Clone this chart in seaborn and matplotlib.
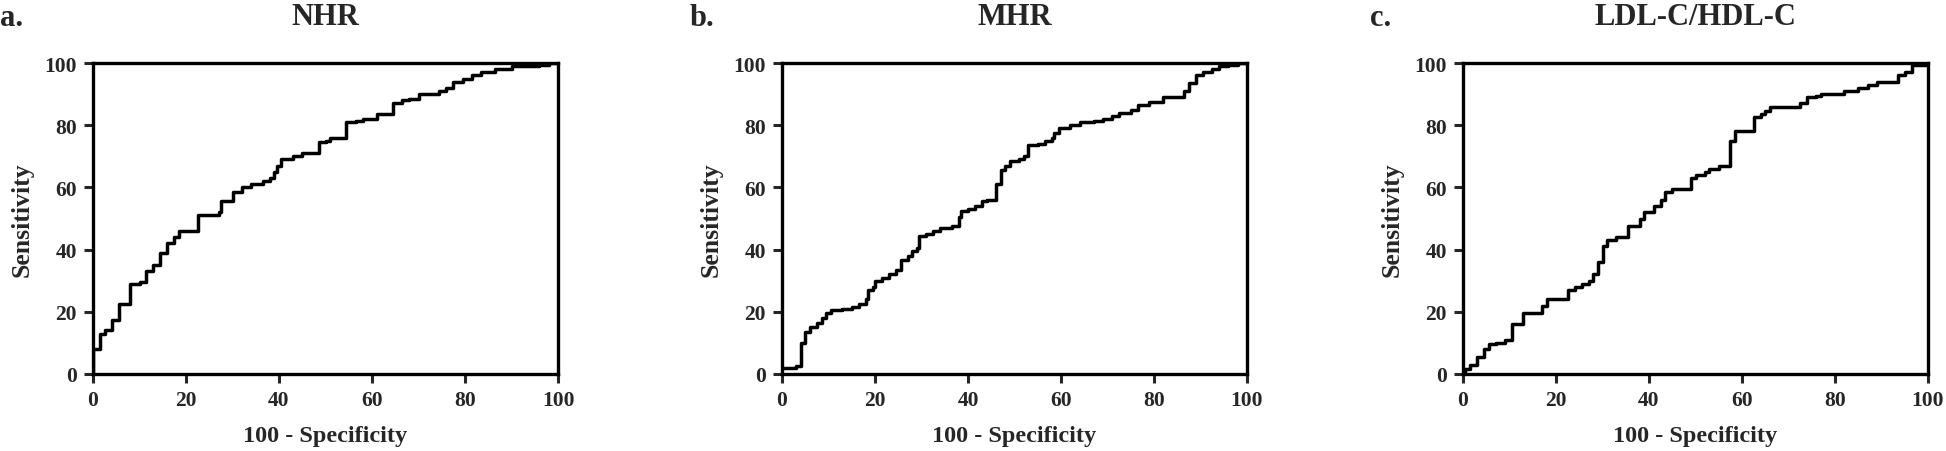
import numpy as np
import pandas as pd
import matplotlib.pyplot as plt
import seaborn as sns

# ROC 곡선 좌표 (100 - Specificity, Sensitivity), 계단형
nhr_fpr = [0, 0, 1.5, 2.5, 4, 5.5, 8, 10, 11.5, 13, 14.5, 16, 17.5, 18.5, 22.5, 27, 27.5, 30, 32, 34,
           36.5, 38, 39, 39.5, 40.5, 43, 45, 48.5, 50, 51, 54.5, 56.5, 58, 61, 64.5, 66.5, 68, 70,
           74.5, 76, 77.5, 79.5, 81.5, 83.5, 86.5, 90, 96, 98, 100]
nhr_tpr = [0, 8, 13, 14, 17.5, 22.5, 29, 29.5, 33, 35, 39, 42, 44, 46, 51, 52, 55.5, 58.5, 60, 61,
           62, 63, 65, 67, 69, 70, 71, 74.5, 75, 76, 81, 81.5, 82, 83.5, 87, 88, 88.5, 90,
           91, 92, 94, 95, 96, 97, 98, 99, 99.5, 100, 100]

mhr_fpr = [0, 3, 4, 5, 6, 7.5, 8.5, 9.5, 10.5, 13, 15, 16.5, 18, 18.5, 19.5, 20, 21.5, 23, 24.5,
           25.5, 27, 28, 29, 29.5, 31, 32.5, 34, 36.5, 38, 38.5, 40, 41.5, 43, 44, 46, 47, 48, 49,
           51, 52, 53, 55, 56.5, 58, 58.5, 59.5, 62, 64, 67, 69, 71, 72.5, 75, 76.5, 79, 82,
           86.5, 87.5, 89, 90.5, 92.5, 94, 96, 98, 100]
mhr_tpr = [2, 2.5, 10, 13.5, 15, 16.5, 18, 19.5, 20.5, 21, 21.5, 22.5, 24, 27, 28, 30, 31, 32, 33.5,
           36.5, 38, 39.5, 40.5, 44.5, 45, 46, 47, 47.5, 50.5, 52.5, 53, 54, 55.5, 56, 61, 65.5, 67, 68.5,
           69, 70, 73.5, 74, 75, 76, 77.5, 79, 80, 81, 81.5, 82, 83, 84, 85, 86.5, 87.5, 89,
           91, 93.5, 96, 97, 98, 99, 99.5, 100, 100]

ldl_fpr = [0, 0.5, 1.5, 3, 4.5, 5.5, 7, 9, 10.5, 13, 17, 18, 22.5, 24, 25.5, 27, 28, 29, 30, 31,
           33, 35.5, 38, 39, 41, 42.5, 43.5, 45, 49, 50, 52, 53, 55, 57.5, 58.5, 62.5, 64, 65, 66,
           72.5, 74, 76, 77, 82, 85, 87, 89, 93.5, 95, 96.5, 100]
ldl_tpr = [0, 1.5, 3, 5.5, 8, 9.5, 10, 11, 16, 19.5, 22, 24, 27, 28, 29, 30, 32, 36, 41, 43,
           44, 47.5, 50, 52, 54, 56, 58.5, 59.5, 63, 64, 65, 66, 67, 75, 78, 82.5, 83.5, 84.5, 86,
           87, 89, 89.5, 90, 91, 92, 93, 94, 96, 97, 99.5, 100]

titles = ["NHR", "MHR", "LDL-C/HDL-C"]
panel_tags = ["a.", "b.", "c."]
ticks = [0, 20, 40, 60, 80, 100]

sns.set_style('white')
plt.rcParams['font.family'] = ['Liberation Serif', 'DejaVu Serif']
plt.rcParams['font.weight'] = 'bold'
plt.rcParams['axes.labelweight'] = 'bold'

fig = plt.figure(figsize=(19.46, 4.52), dpi=100)
lefts = [93 / 1946, 782 / 1946, 1463 / 1946]
curves = [(nhr_fpr, nhr_tpr), (mhr_fpr, mhr_tpr), (ldl_fpr, ldl_tpr)]
tag_x = [0.0, 690 / 1946, 1370 / 1946]

for i, (fpr, tpr) in enumerate(curves):
    ax = fig.add_axes([lefts[i], 77 / 452, 465 / 1946, 311 / 452])
    df = pd.DataFrame({"fpr": fpr, "tpr": tpr})
    sns.lineplot(data=df, x="fpr", y="tpr", estimator=None, sort=False,
                 drawstyle='steps-post', color='black', linewidth=2.5, ax=ax)
    ax.set_xlim(0, 100)
    ax.set_ylim(0, 100)
    ax.set_xticks(ticks)
    ax.set_yticks(ticks)
    ax.tick_params(direction='out', length=6.5, width=2.2, labelsize=15.5, pad=5,
                   bottom=True, left=True)
    for lbl in ax.get_xticklabels() + ax.get_yticklabels():
        lbl.set_fontweight('bold')
    for sp in ax.spines.values():
        sp.set_linewidth(2.4)
        sp.set_color('black')
    ax.set_xlabel("100 - Specificity", fontsize=17.5, fontweight='bold', labelpad=11)
    ax.set_ylabel("Sensitivity", fontsize=18.5, fontweight='bold', labelpad=8)
    ax.set_title(titles[i], fontsize=22, fontweight='bold', pad=28)
    fig.text(tag_x[i], 1 - 18 / 452, panel_tags[i], fontsize=22, fontweight='bold',
             ha='left', va='center')

fig.savefig("out.png", dpi=100)
